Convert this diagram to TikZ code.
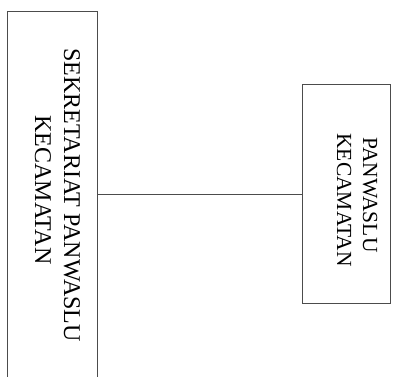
\documentclass[tikz,border=0pt]{standalone}
\usepackage{fontspec}
\setmainfont{Liberation Serif}
\begin{document}
\begin{tikzpicture}[x=1pt,y=-1pt,
  boxst/.style={draw=black!70, line width=1.3pt, fill=none, inner sep=0pt, anchor=north west},
  lbl/.style={rotate=-90, anchor=base, inner sep=0pt, text=black},
  bigtxt/.style={lbl, font=\fontsize{24}{29}\selectfont},
  smalltxt/.style={lbl, font=\fontsize{21.5}{26}\selectfont},
  conn/.style={draw=black!70, line width=1.3pt}]
\useasboundingbox (0,0) rectangle (393,376);
\node[boxst, minimum width=90pt, minimum height=400pt] (sek) at (7,11) {};
\node[boxst, minimum width=88pt, minimum height=219pt] (pan) at (302,84) {};
\node[bigtxt] (sekA) at (64,195) {SEKRETARIAT PANWASLU};
\node[bigtxt] (sekB) at (35,190) {KECAMATAN};
\node[smalltxt] (panA) at (363,195) {PANWASLU};
\node[smalltxt] (panB) at (337,200) {KECAMATAN};
\draw[conn] (sek.east |- pan.west) -- (pan.west);
\end{tikzpicture}
\end{document}
